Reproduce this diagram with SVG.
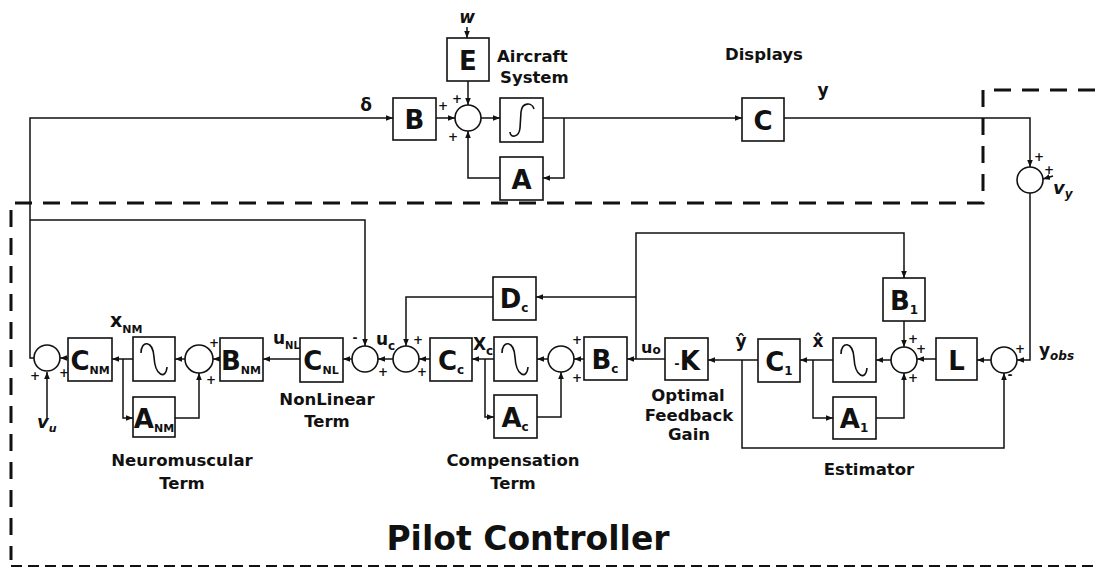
<svg xmlns="http://www.w3.org/2000/svg" width="1095" height="571" viewBox="0 0 1095 571">
<defs>
<marker id="ah" viewBox="0 0 10 10" refX="10" refY="5" markerWidth="7" markerHeight="7" markerUnits="userSpaceOnUse" orient="auto"><path d="M0,1 L10,5 L0,9 z" fill="#111"/></marker>
<style>
.box{fill:#fff;stroke:#111;stroke-width:1.6}
.sum{fill:#fff;stroke:#111;stroke-width:1.6}
.ln{fill:none;stroke:#111;stroke-width:1.5}
.ar{fill:none;stroke:#111;stroke-width:1.5;marker-end:url(#ah)}
.dash{fill:none;stroke:#111;stroke-width:3;stroke-dasharray:17 11}
.dash2{fill:none;stroke:#111;stroke-width:2.2;stroke-dasharray:11 6}
.curve{fill:none;stroke:#111;stroke-width:1.6}
text{font-family:"DejaVu Sans","Liberation Sans",sans-serif;font-weight:bold;fill:#111}
.big{font-size:26px;text-anchor:middle}
.lab{font-size:16.5px;text-anchor:middle}
.pm{font-size:12px;text-anchor:middle}
.sym{font-size:17px}
.it{font-style:italic}
</style>
</defs>
<rect width="1095" height="571" fill="#fff"/>

<g id="boundary">
<path class="dash" d="M1095 90 H983 V203 H11 V560"/>
<path class="dash2" d="M11 566 H1095"/>
</g>

<g id="connectors">
<path class="ar" d="M34 358 H30 V118 H393"/>
<path class="ar" d="M436 118 H455"/>
<path class="ar" d="M468 81 V105"/>
<path class="ar" d="M467 27 V38"/>
<path class="ar" d="M481 118 H500"/>
<path class="ar" d="M543 118 H742"/>
<path class="ar" d="M564 118 V178 H543"/>
<path class="ar" d="M500 178 H468 V131"/>
<path class="ar" d="M784 118 H1030 V167"/>
<path class="ar" d="M1053 176 L1043 179"/>
<path class="ar" d="M1030 193 V360 H1017"/>
<path class="ar" d="M991 360 H977"/>
<path class="ar" d="M936 359 H917"/>
<path class="ar" d="M904 321 V347"/>
<path class="ar" d="M636 359 V233 H904 V278"/>
<path class="ar" d="M636 297 H536"/>
<path class="ar" d="M493 297 H406 V346"/>
<path class="ar" d="M876 418 H904 V373"/>
<path class="ar" d="M891 360 H876"/>
<path class="ar" d="M833 360 H800"/>
<path class="ar" d="M813 360 V418 H833"/>
<path class="ar" d="M758 360 H708"/>
<path class="ar" d="M742 360 V448 H1004 V373"/>
<path class="ar" d="M665 359 H627"/>
<path class="ar" d="M584 359 H574"/>
<path class="ar" d="M537 417 H561 V372"/>
<path class="ar" d="M548 359 H537"/>
<path class="ar" d="M494 359 H472"/>
<path class="ar" d="M485 359 V417 H494"/>
<path class="ar" d="M430 359 H419"/>
<path class="ar" d="M393 359 H378"/>
<path class="ar" d="M352 359 H343"/>
<path class="ar" d="M30 220 H365 V346"/>
<path class="ar" d="M300 359 H263"/>
<path class="ar" d="M220 359 H213"/>
<path class="ar" d="M185 359 H175"/>
<path class="ar" d="M175 418 H199 V373"/>
<path class="ar" d="M133 359 H112"/>
<path class="ar" d="M123 359 V418 H133"/>
<path class="ar" d="M68 358 H60"/>
<path class="ar" d="M47 418 V372"/>
</g>

<!-- top: aircraft system -->
<text class="sym it" x="467" y="23" text-anchor="middle">w</text>
<g id="E"><rect class="box" x="447" y="38" width="42" height="43"/><text class="big" x="468" y="70">E</text></g>
<text class="lab" x="497" y="62" style="text-anchor:start">Aircraft</text>
<text class="lab" x="500" y="83" style="text-anchor:start">System</text>
<text class="sym" x="366" y="111" text-anchor="middle">δ</text>
<g id="B"><rect class="box" x="393" y="98" width="43" height="42"/><text class="big" x="414.5" y="129">B</text></g>
<g id="sumTop"><circle class="sum" cx="468" cy="118" r="13"/>
<text class="pm" x="443" y="110">+</text><text class="pm" x="457" y="103">+</text><text class="pm" x="453" y="141">+</text></g>
<g id="intTop"><rect class="box" x="500" y="98" width="43" height="44"/>
<path class="curve" d="M534 109 C532 102 522 102 521 112 L520 128 C519 138 510 138 510 132"/></g>
<g id="A"><rect class="box" x="500" y="157" width="43" height="43"/><text class="big" x="521.5" y="189">A</text></g>
<text class="lab" x="725" y="60" style="text-anchor:start">Displays</text>
<g id="C"><rect class="box" x="742" y="98" width="42" height="43"/><text class="big" x="763" y="130">C</text></g>
<text class="sym" x="823" y="96" text-anchor="middle">y</text>
<g id="sumY"><circle class="sum" cx="1030" cy="180" r="13"/>
<text class="pm" x="1039" y="161" font-size="11">+</text><text class="pm" x="1049" y="174" font-size="11">+</text></g>
<text class="it" x="1053" y="194" font-size="18">v<tspan font-size="12" dy="4">y</tspan></text>

<!-- neuromuscular -->
<g id="sumU"><circle class="sum" cx="47" cy="358" r="13"/>
<text class="pm" x="35" y="380">+</text><text class="pm" x="64" y="377">+</text></g>
<text class="it" x="37" y="428" font-size="18">v<tspan font-size="11" dy="4">u</tspan></text>
<g id="CNM"><rect class="box" x="68" y="338" width="44" height="43"/><text class="big" x="90" y="370">C<tspan font-size="11" dy="4">NM</tspan></text></g>
<text x="110" y="327" font-size="19">x<tspan font-size="11" dy="6">NM</tspan></text>
<g id="intNM"><rect class="box" x="133" y="337" width="42" height="44"/>
<path class="curve" d="M141 353 C141 340 153 340 154 357 C155 376 166 380 167 367"/></g>
<g id="ANM"><rect class="box" x="133" y="397" width="42" height="40"/><text class="big" x="154" y="428">A<tspan font-size="11" dy="4">NM</tspan></text></g>
<g id="sumNM"><circle class="sum" cx="199" cy="359" r="14"/>
<text class="pm" x="214" y="347">+</text><text class="pm" x="211" y="384">+</text></g>
<g id="BNM"><rect class="box" x="220" y="338" width="43" height="43"/><text class="big" x="241" y="370">B<tspan font-size="11" dy="4">NM</tspan></text></g>
<text class="lab" x="182" y="466">Neuromuscular</text>
<text class="lab" x="182" y="489">Term</text>

<!-- nonlinear -->
<text x="273" y="344" font-size="17">u<tspan font-size="10" dy="5">NL</tspan></text>
<g id="CNL"><rect class="box" x="300" y="338" width="43" height="44"/><text class="big" x="321" y="370">C<tspan font-size="11" dy="4">NL</tspan></text></g>
<g id="sumNL"><circle class="sum" cx="365" cy="359" r="13"/>
<text class="pm" x="355" y="342">-</text><text class="pm" x="383" y="376">+</text></g>
<text x="376" y="345" font-size="17">u<tspan font-size="12" dy="5">c</tspan></text>
<text class="lab" x="327" y="405">NonLinear</text>
<text class="lab" x="327" y="427">Term</text>

<!-- compensation -->
<g id="sumDc"><circle class="sum" cx="406" cy="359" r="13"/>
<text class="pm" x="418" y="344">+</text><text class="pm" x="422" y="376">+</text></g>
<g id="Dc"><rect class="box" x="493" y="277" width="43" height="43"/><text class="big" x="514" y="308">D<tspan font-size="12" dy="4">c</tspan></text></g>
<g id="Cc"><rect class="box" x="430" y="338" width="42" height="43"/><text class="big" x="451" y="370">C<tspan font-size="12" dy="4">c</tspan></text></g>
<text x="473" y="350" font-size="17">X<tspan font-size="12" dy="5">c</tspan></text>
<g id="intC"><rect class="box" x="494" y="337" width="43" height="44"/>
<path class="curve" d="M502 353 C502 340 514 340 515 357 C516 376 527 380 528 367"/></g>
<g id="Ac"><rect class="box" x="494" y="395" width="43" height="43"/><text class="big" x="515" y="427">A<tspan font-size="12" dy="4">c</tspan></text></g>
<g id="sumC"><circle class="sum" cx="561" cy="359" r="13"/>
<text class="pm" x="577" y="344">+</text><text class="pm" x="577" y="382">+</text></g>
<g id="Bc"><rect class="box" x="584" y="337" width="43" height="43"/><text class="big" x="605" y="369">B<tspan font-size="12" dy="4">c</tspan></text></g>
<text class="lab" x="513" y="466">Compensation</text>
<text class="lab" x="513" y="489">Term</text>

<!-- optimal gain -->
<text x="641" y="353" font-size="16">u<tspan font-size="12" dy="1">o</tspan></text>
<g id="K"><rect class="box" x="665" y="338" width="43" height="42"/><text class="big" x="687" y="370"><tspan font-size="13" dy="-2">-</tspan><tspan dy="2">K</tspan></text></g>
<text class="lab" x="688" y="401">Optimal</text>
<text class="lab" x="689" y="421">Feedback</text>
<text class="lab" x="689" y="440">Gain</text>

<!-- estimator -->
<text x="741" y="347" font-size="17" text-anchor="middle">ŷ</text>
<g id="C1"><rect class="box" x="758" y="339" width="42" height="43"/><text class="big" x="779" y="371">C<tspan font-size="12" dy="4">1</tspan></text></g>
<text x="818" y="347" font-size="17" text-anchor="middle">x̂</text>
<g id="int1"><rect class="box" x="833" y="338" width="43" height="44"/>
<path class="curve" d="M841 354 C841 341 853 341 854 358 C855 377 866 381 867 368"/></g>
<g id="A1"><rect class="box" x="833" y="397" width="43" height="42"/><text class="big" x="854" y="428">A<tspan font-size="12" dy="4">1</tspan></text></g>
<g id="B1"><rect class="box" x="883" y="278" width="42" height="43"/><text class="big" x="904" y="310">B<tspan font-size="12" dy="4">1</tspan></text></g>
<g id="sumE"><circle class="sum" cx="904" cy="360" r="13"/>
<text class="pm" x="913" y="343">+</text><text class="pm" x="921" y="353">+</text><text class="pm" x="913" y="382">+</text></g>
<g id="L"><rect class="box" x="936" y="338" width="41" height="42"/><text class="big" x="956.5" y="370">L</text></g>
<g id="sumObs"><circle class="sum" cx="1004" cy="360" r="13"/>
<text class="pm" x="1020" y="353">+</text><text class="pm" x="1010" y="379">-</text></g>
<text x="1039" y="356" font-size="17">y<tspan class="it" font-size="12" dy="4">obs</tspan></text>
<text class="lab" x="869" y="475">Estimator</text>

<text x="528" y="550" font-size="33" text-anchor="middle">Pilot Controller</text>
</svg>
